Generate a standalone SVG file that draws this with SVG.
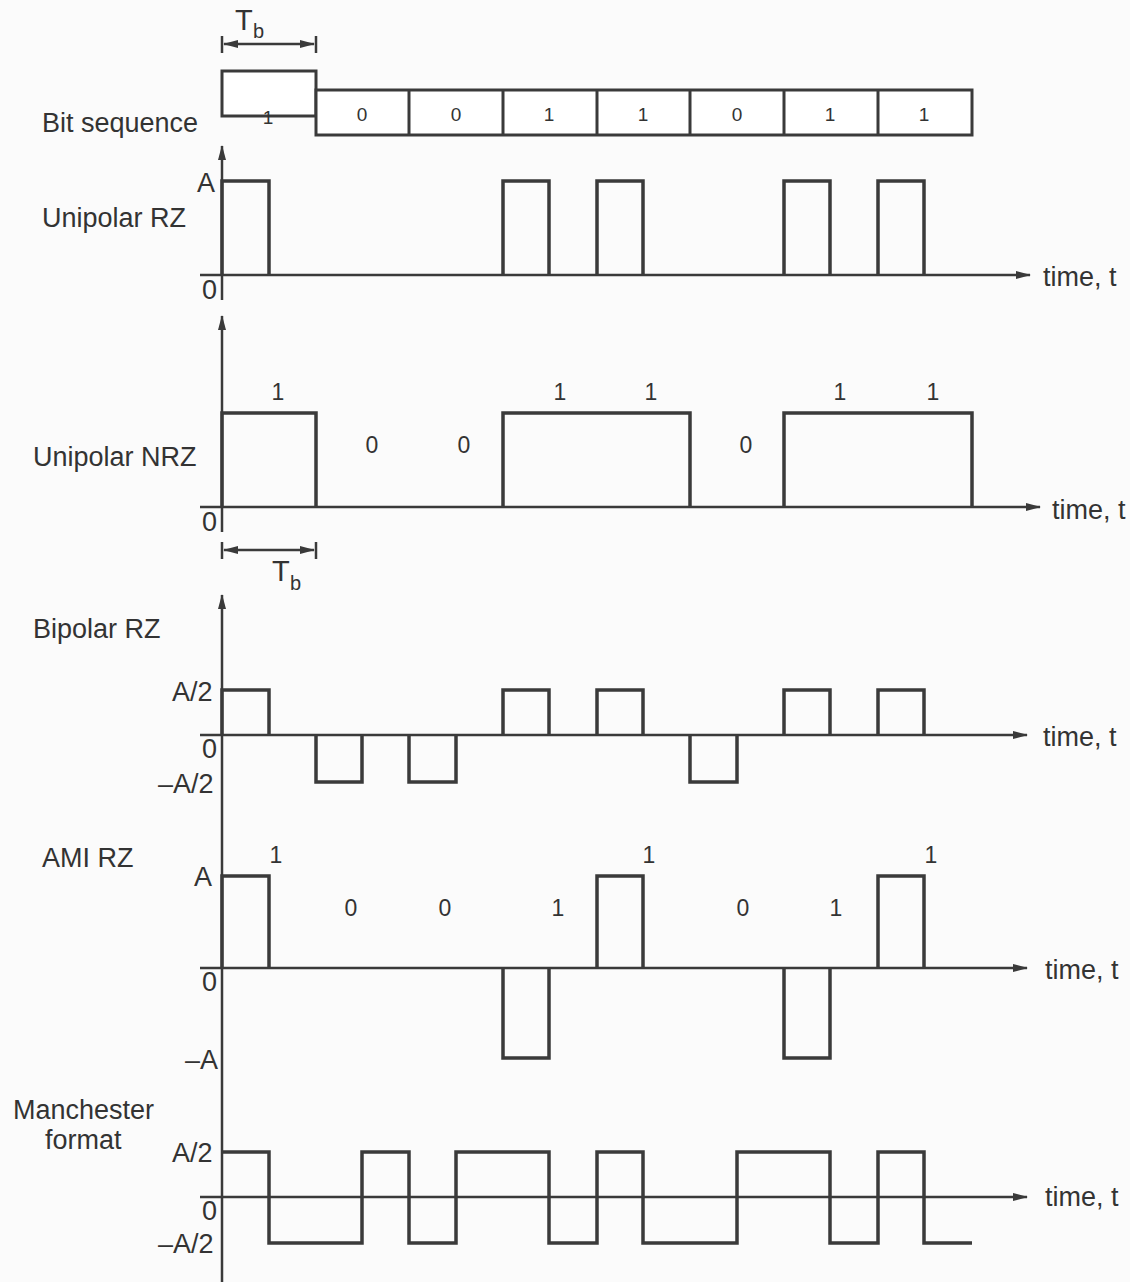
<svg xmlns="http://www.w3.org/2000/svg" width="1130" height="1282" viewBox="0 0 1130 1282">
<style>
text{font-family:"Liberation Sans",Arial,sans-serif;fill:#333}
.lbl{font-size:27px}
.num{font-size:23px}
.sub{font-size:20px}
.bit{font-size:19px}
.wave{fill:none;stroke:#3a3a3a;stroke-width:3.5;stroke-linejoin:miter}
.axis{fill:none;stroke:#3a3a3a;stroke-width:2.5}
.tick{fill:none;stroke:#3a3a3a;stroke-width:2.5}
.box{fill:#fff;stroke:#3a3a3a;stroke-width:3}
</style>
<defs>
<marker id="ah" viewBox="0 0 15 8" refX="14" refY="4" markerWidth="15" markerHeight="8" markerUnits="userSpaceOnUse" orient="auto-start-reverse">
<path d="M0,0 L15,4 L0,8 Z" fill="#3a3a3a"/>
</marker>
</defs>
<rect width="1130" height="1282" fill="#fbfbfb"/>

<g id="connectors">
<line class="axis" x1="224" y1="44" x2="314" y2="44" marker-start="url(#ah)" marker-end="url(#ah)"/>
<line class="tick" x1="222" y1="36" x2="222" y2="53"/>
<line class="tick" x1="316" y1="36" x2="316" y2="53"/>
<line class="axis" x1="222" y1="300" x2="222" y2="146" marker-end="url(#ah)"/>
<line class="axis" x1="200" y1="275" x2="1030" y2="275" marker-end="url(#ah)"/>
<line class="axis" x1="222" y1="532" x2="222" y2="316" marker-end="url(#ah)"/>
<line class="axis" x1="200" y1="507" x2="1040" y2="507" marker-end="url(#ah)"/>
<line class="axis" x1="224" y1="550" x2="314" y2="550" marker-start="url(#ah)" marker-end="url(#ah)"/>
<line class="tick" x1="222" y1="542" x2="222" y2="559"/>
<line class="tick" x1="316" y1="542" x2="316" y2="559"/>
<line class="axis" x1="222" y1="1282" x2="222" y2="595" marker-end="url(#ah)"/>
<line class="axis" x1="200" y1="735" x2="1027" y2="735" marker-end="url(#ah)"/>
<line class="axis" x1="200" y1="968" x2="1027" y2="968" marker-end="url(#ah)"/>
<line class="axis" x1="200" y1="1197" x2="1027" y2="1197" marker-end="url(#ah)"/>
</g>

<g id="bit-sequence">
<text class="lbl" x="235" y="30" style="font-size:29px">T</text><text class="sub" x="253" y="38">b</text>
<rect class="box" x="222" y="71" width="94" height="45"/>
<rect class="box" x="316" y="90" width="656" height="45"/>
<path class="axis" d="M409,90V135M503,90V135M597,90V135M690,90V135M784,90V135M878,90V135" style="stroke-width:3"/>
<text class="bit" x="268" y="124" text-anchor="middle">1</text>
<text class="bit" x="362" y="121" text-anchor="middle">0</text>
<text class="bit" x="456" y="121" text-anchor="middle">0</text>
<text class="bit" x="549" y="121" text-anchor="middle">1</text>
<text class="bit" x="643" y="121" text-anchor="middle">1</text>
<text class="bit" x="737" y="121" text-anchor="middle">0</text>
<text class="bit" x="830" y="121" text-anchor="middle">1</text>
<text class="bit" x="924" y="121" text-anchor="middle">1</text>
<text class="lbl" x="42" y="132">Bit sequence</text>
</g>

<g id="unipolar-rz">
<text class="lbl" x="42" y="227">Unipolar RZ</text>
<text class="lbl" x="197" y="192">A</text>
<text class="lbl" x="202" y="299">0</text>
<path class="wave" d="M222,275V181H269V275M503,275V181H549V275M597,275V181H643V275M784,275V181H830V275M878,275V181H924V275"/>
<text class="lbl" x="1043" y="286">time, t</text>
</g>

<g id="unipolar-nrz">
<text class="lbl" x="33" y="466">Unipolar NRZ</text>
<text class="lbl" x="202" y="531">0</text>
<path class="wave" d="M222,507V413H316V507M503,507V413H690V507M784,507V413H972V507"/>
<text class="num" x="278" y="400" text-anchor="middle">1</text>
<text class="num" x="372" y="453" text-anchor="middle">0</text>
<text class="num" x="464" y="453" text-anchor="middle">0</text>
<text class="num" x="560" y="400" text-anchor="middle">1</text>
<text class="num" x="651" y="400" text-anchor="middle">1</text>
<text class="num" x="746" y="453" text-anchor="middle">0</text>
<text class="num" x="840" y="400" text-anchor="middle">1</text>
<text class="num" x="933" y="400" text-anchor="middle">1</text>
<text class="lbl" x="1052" y="519">time, t</text>
<text class="lbl" x="272" y="581" style="font-size:29px">T</text><text class="sub" x="290" y="590">b</text>
</g>

<g id="bipolar-rz">
<text class="lbl" x="33" y="638">Bipolar RZ</text>
<text class="lbl" x="172" y="701">A/2</text>
<text class="lbl" x="202" y="758">0</text>
<text class="lbl" x="158" y="793">–A/2</text>
<path class="wave" d="M222,735V690H269V735M316,735V782H362V735M409,735V782H456V735M503,735V690H549V735M597,735V690H643V735M690,735V782H737V735M784,735V690H830V735M878,735V690H924V735"/>
<text class="lbl" x="1043" y="746">time, t</text>
</g>

<g id="ami-rz">
<text class="lbl" x="42" y="867">AMI RZ</text>
<text class="lbl" x="194" y="886">A</text>
<text class="lbl" x="202" y="991">0</text>
<text class="lbl" x="185" y="1069">–A</text>
<path class="wave" d="M222,968V876H269V968M503,968V1058H549V968M597,968V876H643V968M784,968V1058H830V968M878,968V876H924V968"/>
<text class="num" x="276" y="863" text-anchor="middle">1</text>
<text class="num" x="351" y="916" text-anchor="middle">0</text>
<text class="num" x="445" y="916" text-anchor="middle">0</text>
<text class="num" x="558" y="916" text-anchor="middle">1</text>
<text class="num" x="649" y="863" text-anchor="middle">1</text>
<text class="num" x="743" y="916" text-anchor="middle">0</text>
<text class="num" x="836" y="916" text-anchor="middle">1</text>
<text class="num" x="931" y="863" text-anchor="middle">1</text>
<text class="lbl" x="1045" y="979">time, t</text>
</g>

<g id="manchester">
<text class="lbl" x="13" y="1119">Manchester</text>
<text class="lbl" x="45" y="1149">format</text>
<text class="lbl" x="172" y="1162">A/2</text>
<text class="lbl" x="202" y="1220">0</text>
<text class="lbl" x="158" y="1253">–A/2</text>
<path class="wave" d="M222,1152H269V1243H362V1152H409V1243H456V1152H549V1243H597V1152H643V1243H737V1152H830V1243H878V1152H924V1243H972"/>
<text class="lbl" x="1045" y="1206">time, t</text>
</g>
</svg>
